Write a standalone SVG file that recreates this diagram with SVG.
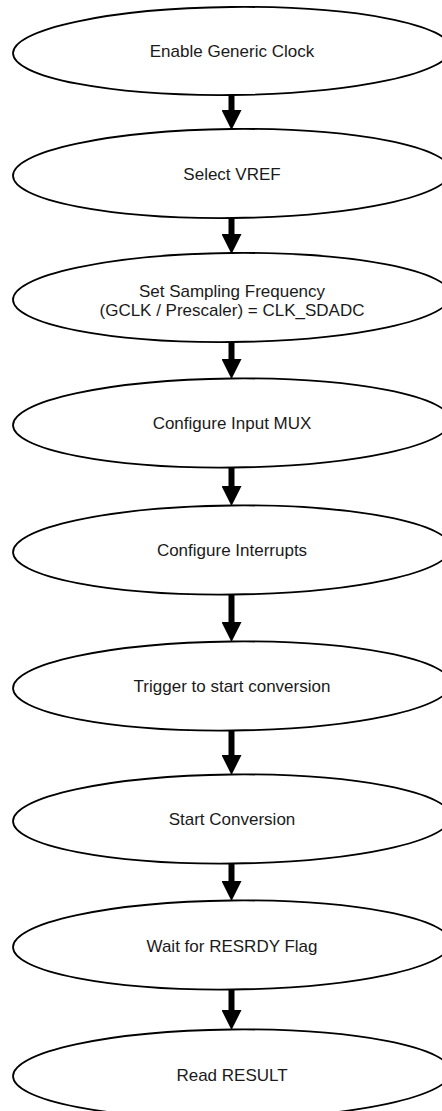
<svg xmlns="http://www.w3.org/2000/svg" width="442" height="1111" viewBox="0 0 442 1111">
  <style>
    .node ellipse { fill: #ffffff; stroke: #000000; stroke-width: 1.8; }
    .node text { font-family: "Liberation Sans", Arial, sans-serif; font-size: 17px; fill: #1a1a1a; text-anchor: middle; }
    .conn line { stroke: #000000; stroke-width: 6; }
  </style>
  <defs>
    <marker id="head" viewBox="0 0 20 20" refX="0" refY="10" markerWidth="20" markerHeight="20" markerUnits="userSpaceOnUse" orient="auto">
      <path d="M0,0 L20,10 L0,20 z" fill="#000000"/>
    </marker>
  </defs>
  <rect width="442" height="1111" fill="#ffffff"/>

  <g id="n1" class="node">
    <ellipse cx="232" cy="51" rx="219" ry="44" transform="rotate(-0.6 232 51)"/>
    <text x="232" y="57">Enable Generic Clock</text>
  </g>
  <g id="n2" class="node">
    <ellipse cx="232" cy="173.5" rx="219" ry="44.5" transform="rotate(-0.6 232 173.5)"/>
    <text x="232" y="180">Select VREF</text>
  </g>
  <g id="n3" class="node">
    <ellipse cx="232" cy="297.5" rx="219" ry="44.5" transform="rotate(-0.6 232 297.5)"/>
    <text x="232" y="297">Set Sampling Frequency</text>
    <text x="232" y="316">(GCLK / Prescaler) = CLK_SDADC</text>
  </g>
  <g id="n4" class="node">
    <ellipse cx="232" cy="423" rx="219" ry="44.5" transform="rotate(-0.6 232 423)"/>
    <text x="232" y="429">Configure Input MUX</text>
  </g>
  <g id="n5" class="node">
    <ellipse cx="232" cy="550" rx="219" ry="44.5" transform="rotate(-0.6 232 550)"/>
    <text x="232" y="556">Configure Interrupts</text>
  </g>
  <g id="n6" class="node">
    <ellipse cx="232" cy="686" rx="219" ry="44.5" transform="rotate(-0.6 232 686)"/>
    <text x="232" y="692">Trigger to start conversion</text>
  </g>
  <g id="n7" class="node">
    <ellipse cx="232" cy="819" rx="219" ry="44.5" transform="rotate(-0.6 232 819)"/>
    <text x="232" y="825">Start Conversion</text>
  </g>
  <g id="n8" class="node">
    <ellipse cx="232" cy="945" rx="219" ry="44.5" transform="rotate(-0.6 232 945)"/>
    <text x="232" y="952">Wait for RESRDY Flag</text>
  </g>
  <g id="n9" class="node">
    <ellipse cx="232" cy="1074" rx="219" ry="44.5" transform="rotate(-0.6 232 1074)"/>
    <text x="232" y="1081">Read RESULT</text>
  </g>

  <g id="connectors" class="conn">
    <line x1="231.5" y1="95" x2="231.5" y2="110" marker-end="url(#head)"/>
    <line x1="231.5" y1="218" x2="231.5" y2="234" marker-end="url(#head)"/>
    <line x1="231.5" y1="342" x2="231.5" y2="359" marker-end="url(#head)"/>
    <line x1="231.5" y1="467" x2="231.5" y2="486" marker-end="url(#head)"/>
    <line x1="231.5" y1="594" x2="231.5" y2="622" marker-end="url(#head)"/>
    <line x1="231.5" y1="730" x2="231.5" y2="755" marker-end="url(#head)"/>
    <line x1="231.5" y1="863" x2="231.5" y2="881" marker-end="url(#head)"/>
    <line x1="231.5" y1="989" x2="231.5" y2="1010" marker-end="url(#head)"/>
  </g>
</svg>
